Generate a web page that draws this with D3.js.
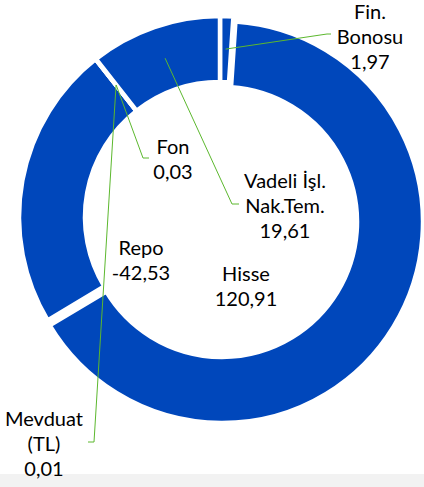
<!DOCTYPE html>
<html>
<head>
<meta charset="utf-8">
<script src="https://cdn.jsdelivr.net/npm/d3@7"></script>
<style>
  body { margin: 0; background: #fff; }
  text { font-family: Lato, "Open Sans", sans-serif; font-size: 20px; fill: #000; }
</style>
</head>
<body>
<script>
// dilimler, saat yonunde tepeden baslayarak
var names = ["Fin. Bonosu", "Hisse", "Repo", "Mevduat (TL)", "Fon", "Vadeli İşl. Nak.Tem."];
var values = [1.97, 120.91, -42.53, 0.01, 0.03, 19.61];
var valueLabels = ["1,97", "120,91", "-42,53", "0,01", "0,03", "19,61"];
var labelLines = [["Fin.", "Bonosu"], ["Hisse"], ["Repo"], ["Mevduat", "(TL)"], ["Fon"], ["Vadeli İşl.", "Nak.Tem."]];

var width = 424, height = 487;
var cx = 220, cy = 217;
var outerR = 201, innerR = 135;

// etiket yerleri (x, ilk satir y) ve kilavuz cizgisinin kirildigi nokta
var labelPos = [
  {x: 370, y: 12, elbow: [327, 34], end: [331, 34]},
  {x: 246, y: 274},
  {x: 141, y: 248},
  {x: 44, y: 419, elbow: [94, 442], end: [88, 442]},
  {x: 173, y: 147, elbow: [143, 158], end: [149, 158]},
  {x: 285, y: 181, elbow: [232, 204], end: [239, 204]}
];

var svg = d3.select("body").append("svg")
  .attr("width", width)
  .attr("height", height);

svg.append("rect")
  .attr("x", 0).attr("y", 474)
  .attr("width", width).attr("height", height - 474)
  .attr("fill", "#f2f2f2");

var pie = d3.pie()
  .sort(null)
  .value(function (d) { return Math.abs(d); });

var arc = d3.arc().innerRadius(innerR).outerRadius(outerR);
var mid = d3.arc().innerRadius((innerR + outerR) / 2).outerRadius((innerR + outerR) / 2);

var arcs = pie(values);

var g = svg.append("g").attr("transform", "translate(" + cx + "," + cy + ")");

g.selectAll("path")
  .data(arcs)
  .enter()
  .append("path")
  .attr("d", arc)
  .attr("fill", "#0047BB")
  .attr("stroke", "#fff")
  .attr("stroke-width", 4.5)
  .attr("stroke-linejoin", "miter")
  .attr("transform", function (d, i) {
    // Hisse dilimi biraz disari cekilmis
    return i == 1 ? "translate(2,5)" : null;
  });

// kilavuz cizgileri
arcs.forEach(function (d, i) {
  var p = labelPos[i];
  if (!p.elbow) return;
  var c = mid.centroid(d);
  var pts = [[cx + c[0], cy + c[1]], p.elbow, p.end];
  svg.append("path")
    .attr("d", d3.line()(pts))
    .attr("fill", "none")
    .attr("stroke", "#5cb82e")
    .attr("stroke-width", 1);
});

// etiketler
var lineH = 25;
arcs.forEach(function (d, i) {
  var p = labelPos[i];
  var lines = labelLines[i].concat([valueLabels[i]]);
  var t = svg.append("text")
    .attr("text-anchor", "middle");
  lines.forEach(function (s, k) {
    t.append("tspan")
      .attr("x", p.x)
      .attr("y", p.y + k * lineH)
      .attr("dy", "0.35em")
      .text(s);
  });
});
</script>
</body>
</html>
